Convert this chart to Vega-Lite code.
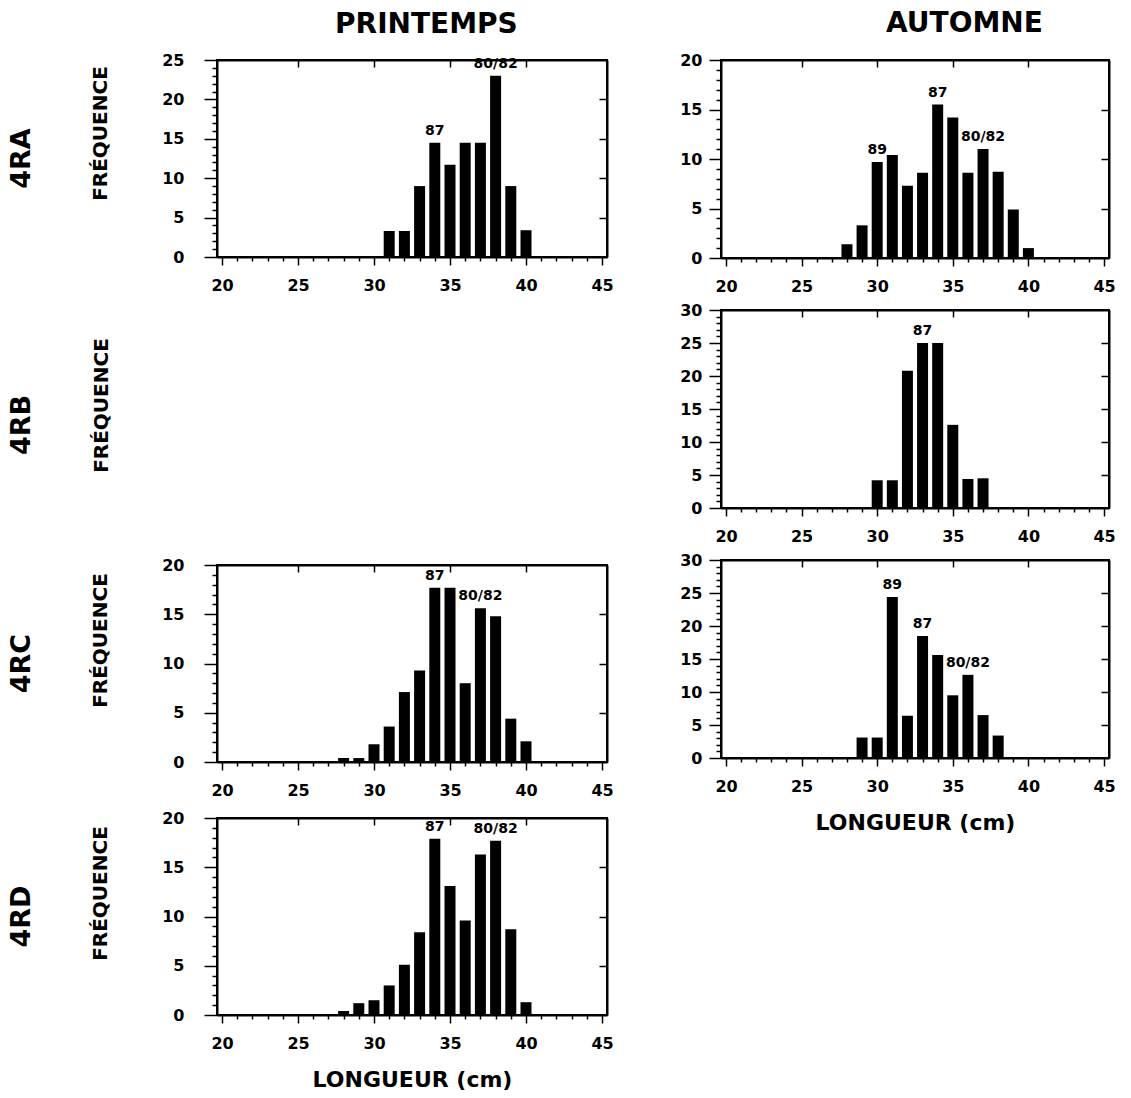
{
  "$schema": "https://vega.github.io/schema/vega-lite/v6.json",
  "padding": {"left": 6, "top": 10, "right": 5, "bottom": 0},
  "background": "white",
  "data": {"values": [
    {"panel": "P4RA", "lng": 31, "freq": 3.3},
    {"panel": "P4RA", "lng": 32, "freq": 3.3},
    {"panel": "P4RA", "lng": 33, "freq": 9.0},
    {"panel": "P4RA", "lng": 34, "freq": 14.5, "label": "87"},
    {"panel": "P4RA", "lng": 35, "freq": 11.7},
    {"panel": "P4RA", "lng": 36, "freq": 14.5},
    {"panel": "P4RA", "lng": 37, "freq": 14.5},
    {"panel": "P4RA", "lng": 38, "freq": 23.0, "label": "80/82"},
    {"panel": "P4RA", "lng": 39, "freq": 9.0},
    {"panel": "P4RA", "lng": 40, "freq": 3.4},
    {"panel": "A4RA", "lng": 28, "freq": 1.4},
    {"panel": "A4RA", "lng": 29, "freq": 3.3},
    {"panel": "A4RA", "lng": 30, "freq": 9.7, "label": "89"},
    {"panel": "A4RA", "lng": 31, "freq": 10.4},
    {"panel": "A4RA", "lng": 32, "freq": 7.3},
    {"panel": "A4RA", "lng": 33, "freq": 8.6},
    {"panel": "A4RA", "lng": 34, "freq": 15.5, "label": "87"},
    {"panel": "A4RA", "lng": 35, "freq": 14.2},
    {"panel": "A4RA", "lng": 36, "freq": 8.6},
    {"panel": "A4RA", "lng": 37, "freq": 11.0, "label": "80/82"},
    {"panel": "A4RA", "lng": 38, "freq": 8.7},
    {"panel": "A4RA", "lng": 39, "freq": 4.9},
    {"panel": "A4RA", "lng": 40, "freq": 1.0},
    {"panel": "A4RB", "lng": 30, "freq": 4.2},
    {"panel": "A4RB", "lng": 31, "freq": 4.2},
    {"panel": "A4RB", "lng": 32, "freq": 20.8},
    {"panel": "A4RB", "lng": 33, "freq": 25.0, "label": "87"},
    {"panel": "A4RB", "lng": 34, "freq": 25.0},
    {"panel": "A4RB", "lng": 35, "freq": 12.6},
    {"panel": "A4RB", "lng": 36, "freq": 4.4},
    {"panel": "A4RB", "lng": 37, "freq": 4.5},
    {"panel": "P4RC", "lng": 28, "freq": 0.4},
    {"panel": "P4RC", "lng": 29, "freq": 0.4},
    {"panel": "P4RC", "lng": 30, "freq": 1.8},
    {"panel": "P4RC", "lng": 31, "freq": 3.6},
    {"panel": "P4RC", "lng": 32, "freq": 7.1},
    {"panel": "P4RC", "lng": 33, "freq": 9.3},
    {"panel": "P4RC", "lng": 34, "freq": 17.7, "label": "87"},
    {"panel": "P4RC", "lng": 35, "freq": 17.7},
    {"panel": "P4RC", "lng": 36, "freq": 8.0},
    {"panel": "P4RC", "lng": 37, "freq": 15.6, "label": "80/82"},
    {"panel": "P4RC", "lng": 38, "freq": 14.8},
    {"panel": "P4RC", "lng": 39, "freq": 4.4},
    {"panel": "P4RC", "lng": 40, "freq": 2.1},
    {"panel": "A4RC", "lng": 29, "freq": 3.1},
    {"panel": "A4RC", "lng": 30, "freq": 3.1},
    {"panel": "A4RC", "lng": 31, "freq": 24.4, "label": "89"},
    {"panel": "A4RC", "lng": 32, "freq": 6.4},
    {"panel": "A4RC", "lng": 33, "freq": 18.5, "label": "87"},
    {"panel": "A4RC", "lng": 34, "freq": 15.6},
    {"panel": "A4RC", "lng": 35, "freq": 9.5},
    {"panel": "A4RC", "lng": 36, "freq": 12.6, "label": "80/82"},
    {"panel": "A4RC", "lng": 37, "freq": 6.5},
    {"panel": "A4RC", "lng": 38, "freq": 3.4},
    {"panel": "P4RD", "lng": 28, "freq": 0.4},
    {"panel": "P4RD", "lng": 29, "freq": 1.2},
    {"panel": "P4RD", "lng": 30, "freq": 1.5},
    {"panel": "P4RD", "lng": 31, "freq": 3.0},
    {"panel": "P4RD", "lng": 32, "freq": 5.1},
    {"panel": "P4RD", "lng": 33, "freq": 8.4},
    {"panel": "P4RD", "lng": 34, "freq": 17.9, "label": "87"},
    {"panel": "P4RD", "lng": 35, "freq": 13.1},
    {"panel": "P4RD", "lng": 36, "freq": 9.6},
    {"panel": "P4RD", "lng": 37, "freq": 16.3},
    {"panel": "P4RD", "lng": 38, "freq": 17.7, "label": "80/82"},
    {"panel": "P4RD", "lng": 39, "freq": 8.7},
    {"panel": "P4RD", "lng": 40, "freq": 1.3}
  ]},
  "spacing": 63,
  "hconcat": [
    {
      "title": {"text": "PRINTEMPS", "anchor": "middle", "dx": 116, "offset": 12, "fontSize": 28},
      "spacing": 10,
      "vconcat": [
        {
          "width": 390, "height": 197,
          "title": {"text": "4RA", "orient": "left", "anchor": "middle", "fontSize": 27, "offset": 55},
          "transform": [{"filter": "datum.panel === 'P4RA'"}],
          "layer": [
            {"mark": {"type": "bar", "color": "black", "width": 11},
             "encoding": {
               "x": {"field": "lng", "type": "quantitative", "scale": {"domain": [20, 45], "nice": false, "zero": false},
                     "axis": {"orient": "bottom", "title": null, "values": [20,21,22,23,24,25,26,27,28,29,30,31,32,33,34,35,36,37,38,39,40,41,42,43,44,45], "labelExpr": "datum.value % 5 === 0 ? datum.label : ''", "tickSize": {"condition": {"test": "datum.value % 5 === 0", "value": 8}, "value": 4}, "labelPadding": 12}},
               "y": {"field": "freq", "type": "quantitative", "scale": {"domain": [0, 25], "nice": false},
                     "axis": {"orient": "left", "title": "FRÉQUENCE", "titleY": 73, "values": [0,1,2,3,4,5,6,7,8,9,10,11,12,13,14,15,16,17,18,19,20,21,22,23,24,25], "labelExpr": "datum.value % 5 === 0 ? datum.label : ''", "tickSize": {"condition": {"test": "datum.value % 5 === 0", "value": 13}, "value": 5}, "labelPadding": 20, "titlePadding": 51}}
             }},
            {"transform": [{"filter": "datum.label"}],
             "mark": {"type": "text", "font": "DejaVu Sans", "fontWeight": "bold", "fontSize": 14, "dy": -8, "baseline": "alphabetic", "color": "black"},
             "encoding": {
               "x": {"field": "lng", "type": "quantitative", "axis": {"orient": "top", "labels": false, "title": null, "values": [25, 30, 35, 40], "tickSize": -7}},
               "y": {"field": "freq", "type": "quantitative", "axis": {"orient": "right", "labels": false, "title": null, "values": [5, 10, 15, 20], "tickSize": -8}},
               "text": {"field": "label"}
             }}
          ]
        },
        {
          "width": 390, "height": 242,
          "data": {"values": []},
          "title": {"text": "4RB", "orient": "left", "anchor": "middle", "fontSize": 27, "offset": 55},
          "view": {"stroke": null},
          "mark": "point",
          "encoding": {
            "y": {"field": "freq", "type": "quantitative", "scale": {"domain": [0, 30]},
                  "axis": {"orient": "left", "title": "FRÉQUENCE", "titleY": 101, "domain": false, "ticks": false, "labels": false, "titlePadding": 106}}
          }
        },
        {
          "width": 390, "height": 197,
          "title": {"text": "4RC", "orient": "left", "anchor": "middle", "fontSize": 27, "offset": 55},
          "transform": [{"filter": "datum.panel === 'P4RC'"}],
          "layer": [
            {"mark": {"type": "bar", "color": "black", "width": 11},
             "encoding": {
               "x": {"field": "lng", "type": "quantitative", "scale": {"domain": [20, 45], "nice": false, "zero": false},
                     "axis": {"orient": "bottom", "title": null, "values": [20,21,22,23,24,25,26,27,28,29,30,31,32,33,34,35,36,37,38,39,40,41,42,43,44,45], "labelExpr": "datum.value % 5 === 0 ? datum.label : ''", "tickSize": {"condition": {"test": "datum.value % 5 === 0", "value": 8}, "value": 4}, "labelPadding": 12}},
               "y": {"field": "freq", "type": "quantitative", "scale": {"domain": [0, 20], "nice": false},
                     "axis": {"orient": "left", "title": "FRÉQUENCE", "titleY": 75, "values": [0,1,2,3,4,5,6,7,8,9,10,11,12,13,14,15,16,17,18,19,20], "labelExpr": "datum.value % 5 === 0 ? datum.label : ''", "tickSize": {"condition": {"test": "datum.value % 5 === 0", "value": 13}, "value": 5}, "labelPadding": 20, "titlePadding": 51}}
             }},
            {"transform": [{"filter": "datum.label"}],
             "mark": {"type": "text", "font": "DejaVu Sans", "fontWeight": "bold", "fontSize": 14, "dy": -8, "baseline": "alphabetic", "color": "black"},
             "encoding": {
               "x": {"field": "lng", "type": "quantitative", "axis": {"orient": "top", "labels": false, "title": null, "values": [25, 30, 35, 40], "tickSize": -7}},
               "y": {"field": "freq", "type": "quantitative", "axis": {"orient": "right", "labels": false, "title": null, "values": [5, 10, 15], "tickSize": -8}},
               "text": {"field": "label"}
             }}
          ]
        },
        {
          "width": 390, "height": 197,
          "title": {"text": "4RD", "orient": "left", "anchor": "middle", "fontSize": 27, "offset": 55},
          "transform": [{"filter": "datum.panel === 'P4RD'"}],
          "layer": [
            {"mark": {"type": "bar", "color": "black", "width": 11},
             "encoding": {
               "x": {"field": "lng", "type": "quantitative", "scale": {"domain": [20, 45], "nice": false, "zero": false},
                     "axis": {"orient": "bottom", "title": "LONGUEUR (cm)", "titleFontSize": 22, "titlePadding": 18, "values": [20,21,22,23,24,25,26,27,28,29,30,31,32,33,34,35,36,37,38,39,40,41,42,43,44,45], "labelExpr": "datum.value % 5 === 0 ? datum.label : ''", "tickSize": {"condition": {"test": "datum.value % 5 === 0", "value": 8}, "value": 4}, "labelPadding": 12}},
               "y": {"field": "freq", "type": "quantitative", "scale": {"domain": [0, 20], "nice": false},
                     "axis": {"orient": "left", "title": "FRÉQUENCE", "titleY": 75, "values": [0,1,2,3,4,5,6,7,8,9,10,11,12,13,14,15,16,17,18,19,20], "labelExpr": "datum.value % 5 === 0 ? datum.label : ''", "tickSize": {"condition": {"test": "datum.value % 5 === 0", "value": 13}, "value": 5}, "labelPadding": 20, "titlePadding": 51}}
             }},
            {"transform": [{"filter": "datum.label"}],
             "mark": {"type": "text", "font": "DejaVu Sans", "fontWeight": "bold", "fontSize": 14, "dy": -8, "baseline": "alphabetic", "color": "black"},
             "encoding": {
               "x": {"field": "lng", "type": "quantitative", "axis": {"orient": "top", "labels": false, "title": null, "values": [25, 30, 35, 40], "tickSize": -7}},
               "y": {"field": "freq", "type": "quantitative", "axis": {"orient": "right", "labels": false, "title": null, "values": [5, 10, 15], "tickSize": -8}},
               "text": {"field": "label"}
             }}
          ]
        }
      ]
    },
    {
      "title": {"text": "AUTOMNE", "anchor": "middle", "dx": 67, "offset": 13, "fontSize": 28},
      "spacing": 6,
      "vconcat": [
        {
          "width": 388, "height": 198,
          "transform": [{"filter": "datum.panel === 'A4RA'"}],
          "layer": [
            {"mark": {"type": "bar", "color": "black", "width": 11},
             "encoding": {
               "x": {"field": "lng", "type": "quantitative", "scale": {"domain": [20, 45], "nice": false, "zero": false},
                     "axis": {"orient": "bottom", "title": null, "values": [20,21,22,23,24,25,26,27,28,29,30,31,32,33,34,35,36,37,38,39,40,41,42,43,44,45], "labelExpr": "datum.value % 5 === 0 ? datum.label : ''", "tickSize": {"condition": {"test": "datum.value % 5 === 0", "value": 8}, "value": 4}, "labelPadding": 12}},
               "y": {"field": "freq", "type": "quantitative", "scale": {"domain": [0, 20], "nice": false},
                     "axis": {"orient": "left", "title": null, "values": [0,1,2,3,4,5,6,7,8,9,10,11,12,13,14,15,16,17,18,19,20], "labelExpr": "datum.value % 5 === 0 ? datum.label : ''", "tickSize": {"condition": {"test": "datum.value % 5 === 0", "value": 12}, "value": 5}, "labelPadding": 7}}
             }},
            {"transform": [{"filter": "datum.label"}],
             "mark": {"type": "text", "font": "DejaVu Sans", "fontWeight": "bold", "fontSize": 14, "dy": -8, "baseline": "alphabetic", "color": "black"},
             "encoding": {
               "x": {"field": "lng", "type": "quantitative", "axis": {"orient": "top", "labels": false, "title": null, "values": [25, 30, 35, 40], "tickSize": -7}},
               "y": {"field": "freq", "type": "quantitative", "axis": {"orient": "right", "labels": false, "title": null, "values": [5, 10, 15], "tickSize": -8}},
               "text": {"field": "label"}
             }}
          ]
        },
        {
          "width": 388, "height": 198,
          "transform": [{"filter": "datum.panel === 'A4RB'"}],
          "layer": [
            {"mark": {"type": "bar", "color": "black", "width": 11},
             "encoding": {
               "x": {"field": "lng", "type": "quantitative", "scale": {"domain": [20, 45], "nice": false, "zero": false},
                     "axis": {"orient": "bottom", "title": null, "values": [20,21,22,23,24,25,26,27,28,29,30,31,32,33,34,35,36,37,38,39,40,41,42,43,44,45], "labelExpr": "datum.value % 5 === 0 ? datum.label : ''", "tickSize": {"condition": {"test": "datum.value % 5 === 0", "value": 8}, "value": 4}, "labelPadding": 12}},
               "y": {"field": "freq", "type": "quantitative", "scale": {"domain": [0, 30], "nice": false},
                     "axis": {"orient": "left", "title": null, "values": [0,1,2,3,4,5,6,7,8,9,10,11,12,13,14,15,16,17,18,19,20,21,22,23,24,25,26,27,28,29,30], "labelExpr": "datum.value % 5 === 0 ? datum.label : ''", "tickSize": {"condition": {"test": "datum.value % 5 === 0", "value": 12}, "value": 5}, "labelPadding": 7}}
             }},
            {"transform": [{"filter": "datum.label"}],
             "mark": {"type": "text", "font": "DejaVu Sans", "fontWeight": "bold", "fontSize": 14, "dy": -8, "baseline": "alphabetic", "color": "black"},
             "encoding": {
               "x": {"field": "lng", "type": "quantitative", "axis": {"orient": "top", "labels": false, "title": null, "values": [25, 30, 35, 40], "tickSize": -7}},
               "y": {"field": "freq", "type": "quantitative", "axis": {"orient": "right", "labels": false, "title": null, "values": [5, 10, 15, 20, 25], "tickSize": -8}},
               "text": {"field": "label"}
             }}
          ]
        },
        {
          "width": 388, "height": 198,
          "transform": [{"filter": "datum.panel === 'A4RC'"}],
          "layer": [
            {"mark": {"type": "bar", "color": "black", "width": 11},
             "encoding": {
               "x": {"field": "lng", "type": "quantitative", "scale": {"domain": [20, 45], "nice": false, "zero": false},
                     "axis": {"orient": "bottom", "title": "LONGUEUR (cm)", "titleFontSize": 22, "titlePadding": 18, "values": [20,21,22,23,24,25,26,27,28,29,30,31,32,33,34,35,36,37,38,39,40,41,42,43,44,45], "labelExpr": "datum.value % 5 === 0 ? datum.label : ''", "tickSize": {"condition": {"test": "datum.value % 5 === 0", "value": 8}, "value": 4}, "labelPadding": 12}},
               "y": {"field": "freq", "type": "quantitative", "scale": {"domain": [0, 30], "nice": false},
                     "axis": {"orient": "left", "title": null, "values": [0,1,2,3,4,5,6,7,8,9,10,11,12,13,14,15,16,17,18,19,20,21,22,23,24,25,26,27,28,29,30], "labelExpr": "datum.value % 5 === 0 ? datum.label : ''", "tickSize": {"condition": {"test": "datum.value % 5 === 0", "value": 12}, "value": 5}, "labelPadding": 7}}
             }},
            {"transform": [{"filter": "datum.label"}],
             "mark": {"type": "text", "font": "DejaVu Sans", "fontWeight": "bold", "fontSize": 14, "dy": -8, "baseline": "alphabetic", "color": "black"},
             "encoding": {
               "x": {"field": "lng", "type": "quantitative", "axis": {"orient": "top", "labels": false, "title": null, "values": [25, 30, 35, 40], "tickSize": -7}},
               "y": {"field": "freq", "type": "quantitative", "axis": {"orient": "right", "labels": false, "title": null, "values": [5, 10, 15, 20, 25], "tickSize": -8}},
               "text": {"field": "label"}
             }}
          ]
        }
      ]
    }
  ],
  "config": {
    "font": "DejaVu Sans",
    "view": {"stroke": "black", "strokeWidth": 2},
    "axis": {
      "grid": false,
      "domainColor": "black",
      "domainWidth": 2,
      "tickColor": "black",
      "tickWidth": 1.5,
      "labelFont": "DejaVu Sans",
      "labelFontWeight": "bold",
      "labelFontSize": 16,
      "labelColor": "black",
      "labelOverlap": false,
      "labelFlush": false,
      "titleFont": "DejaVu Sans",
      "titleFontWeight": "bold",
      "titleFontSize": 20,
      "titleColor": "black"
    },
    "title": {"font": "DejaVu Sans", "fontWeight": "bold", "color": "black"}
  }
}
